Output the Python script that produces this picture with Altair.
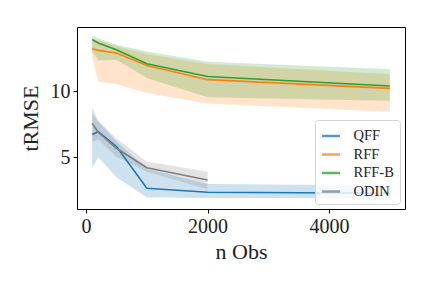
import altair as alt
import pandas as pd

methods = ["QFF", "RFF", "RFF-B", "ODIN"]
colors = ["#1f77b4", "#ff7f0e", "#2ca02c", "#7f7f7f"]

x_all = [100, 200, 500, 1000, 2000, 5000]

qff_mean = [6.7, 6.92, 5.8, 2.63, 2.33, 2.25]
qff_lo = [4.14, 4.98, 3.46, 1.95, 1.9, 1.87]
qff_hi = [8.3, 7.7, 6.2, 4.1, 2.95, 2.85]

rff_mean = [13.2, 13.08, 12.88, 11.94, 10.86, 10.2]
rff_lo = [12.5, 10.73, 10.53, 9.85, 9.05, 8.43]
rff_hi = [14.0, 13.85, 13.4, 12.8, 12.05, 11.27]

rffb_mean = [13.89, 13.64, 13.13, 12.07, 11.1, 10.38]
rffb_lo = [13.0, 12.32, 12.37, 10.98, 9.52, 9.27]
rffb_hi = [14.17, 14.0, 13.5, 13.0, 12.22, 11.64]

x_odin = [100, 200, 500, 1000, 2000]
odin_mean = [7.55, 6.87, 5.66, 4.19, 3.26]
odin_lo = [6.16, 6.3, 5.02, 3.89, 2.55]
odin_hi = [8.81, 7.75, 6.4, 4.65, 3.89]

rows = []
for name, xs, m, lo, hi in [
    ("QFF", x_all, qff_mean, qff_lo, qff_hi),
    ("RFF", x_all, rff_mean, rff_lo, rff_hi),
    ("RFF-B", x_all, rffb_mean, rffb_lo, rffb_hi),
    ("ODIN", x_odin, odin_mean, odin_lo, odin_hi),
]:
    for xi, mi, l, h in zip(xs, m, lo, hi):
        rows.append({"method": name, "n": xi, "mean": mi, "lo": l, "hi": h})
df = pd.DataFrame(rows)

font = "Liberation Serif"
xs = alt.Scale(domain=[-150, 5250], nice=False, zero=False)
ys = alt.Scale(domain=[1.06, 14.85], nice=False, zero=False)
cs = alt.Scale(domain=methods, range=colors)

leg = alt.Legend(title=None, orient="none",
                 legendX=238, legendY=93,
                 symbolType="stroke", symbolSize=324,
                 symbolStrokeWidth=2.5, symbolOpacity=0.75,
                 labelFont=font, labelFontSize=14.5,
                 labelColor="#222", labelOffset=12,
                 rowPadding=1.5,
                 fillColor="rgba(255,255,255,0.8)", strokeColor="#d5d5d5",
                 cornerRadius=3, padding=5.5)

base = alt.Chart(df)

band = base.mark_area(opacity=0.22).encode(
    x=alt.X("n:Q", scale=xs),
    y=alt.Y("lo:Q", scale=ys),
    y2="hi:Q",
    color=alt.Color("method:N", scale=cs, sort=methods, legend=leg),
    detail="method:N",
)

line = base.mark_line(strokeWidth=1.6).encode(
    x=alt.X("n:Q", scale=xs, title="n Obs",
            axis=alt.Axis(values=[0, 2000, 4000], format="d", grid=False)),
    y=alt.Y("mean:Q", scale=ys, title="tRMSE",
            axis=alt.Axis(values=[5, 10], grid=False)),
    color=alt.Color("method:N", scale=cs, sort=methods, legend=leg),
)

chart = alt.layer(band, line).properties(
    width=328, height=182,
    autosize=alt.AutoSizeParams(type="none"),
    padding={"left": 69, "top": 19, "right": 19, "bottom": 61},
).configure_view(
    stroke="black", strokeWidth=1
).configure_axis(
    labelFont=font, titleFont=font, labelFontSize=20, titleFontSize=22,
    labelColor="#222", titleColor="#222", titleFontWeight="normal",
    domain=False, tickColor="black", tickSize=4, labelPadding=3,
).configure_axisX(
    titlePadding=5
).configure_axisY(
    titlePadding=8
)

chart.save("out.html", embed_options={"renderer": "svg", "actions": False})
